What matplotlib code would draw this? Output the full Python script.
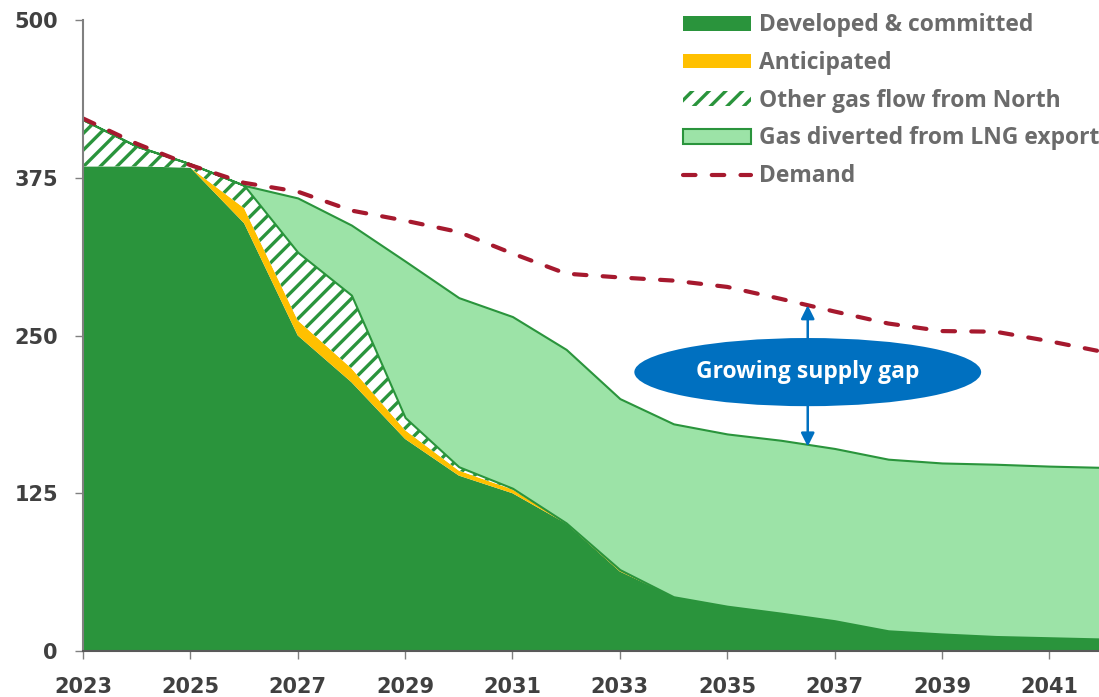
import matplotlib.pyplot as plt
import matplotlib.patches as mpatches
from matplotlib.lines import Line2D
import numpy as np

# supply / demand outlook (PJ)
years = list(range(2023, 2043))
developed = [384, 384, 383, 339, 250, 213, 168, 139, 125, 101, 63, 43, 35.5, 30, 24, 16, 13.5, 11.5, 10.5, 9.5]
anticipated = [0, 0, 0, 12, 12, 11, 7, 4, 3, 0.5, 1.5, 0, 0, 0, 0, 0, 0, 0, 0, 0]
north_flow = [37, 16, 3, 18, 54, 58, 10, 3, 1, 0, 0, 0, 0, 0, 0, 0, 0, 0, 0, 0]
lng_diverted = [0, 0, 0, 0, 43, 55.5, 124, 134, 136, 137.5, 135.5, 137, 136.5, 137, 136.5, 136, 135.5, 136.5, 136, 136]
demand = [422, 402, 385, 371, 364, 349, 341, 332, 315, 299, 296, 293.5, 288.5, 279, 269, 259.5, 253.5, 253, 245.5, 237]

labels = ['Developed & committed', 'Anticipated', 'Other gas flow from North',
          'Gas diverted from LNG export', 'Demand']
dark_green = '#2A943C'
light_green = '#9CE3A7'
orange = '#FFC000'
red = '#A6192E'
blue = '#0070C0'

plt.rcParams['hatch.linewidth'] = 2.4

fig = plt.figure(figsize=(10.99, 6.97), dpi=100)
ax = fig.add_axes([83 / 1099, 1 - 651 / 697, 1020 / 1099, 631 / 697])

x = np.array(years)
b1 = np.array(developed)
b2 = b1 + np.array(anticipated)
b3 = b2 + np.array(north_flow)
b4 = b3 + np.array(lng_diverted)

ax.fill_between(x, 0, b1, facecolor=dark_green, linewidth=0, zorder=2)
ax.fill_between(x, b1, b2, facecolor=orange, linewidth=0, zorder=2)
ax.fill_between(x, b2, b3, facecolor='white', edgecolor=dark_green, hatch='//', linewidth=0, zorder=2)
ax.fill_between(x, b3, b4, facecolor=light_green, edgecolor=dark_green, linewidth=1.5, zorder=2)
ax.plot(x, demand, color=red, lw=3, dashes=(3.0, 3.9), dash_capstyle='round', zorder=4)

# supply gap annotation
gx = 2036.5
ax.annotate('', xy=(gx, 274), xytext=(gx, 162),
            arrowprops=dict(arrowstyle='<|-|>', color=blue, lw=1.8, mutation_scale=20,
                            shrinkA=0, shrinkB=0), zorder=5)
ax.add_patch(mpatches.Ellipse((gx, 221), 6.46, 54, facecolor=blue, edgecolor='none', zorder=6))
ax.text(gx, 221, 'Growing supply gap', color='white', fontsize=16.5, fontweight='bold',
        family='Open Sans', ha='center', va='center', zorder=7)

ax.set_xlim(2023, 2042)
ax.set_ylim(0, 500)
ax.set_xticks(range(2023, 2042, 2))
ax.set_yticks([0, 125, 250, 375, 500])
for s in ['top', 'right']:
    ax.spines[s].set_visible(False)
ax.spines['left'].set_color('#808080')
ax.spines['left'].set_linewidth(1.5)
ax.spines['bottom'].set_color('#595959')
ax.spines['bottom'].set_linewidth(1.5)
ax.spines['left'].set_zorder(8)
ax.spines['bottom'].set_zorder(8)
ax.tick_params(axis='both', length=6, width=1, color='#808080', labelcolor='#404040')
ax.tick_params(axis='x', pad=13)
ax.tick_params(axis='y', pad=12)
for lab in ax.get_xticklabels() + ax.get_yticklabels():
    lab.set_family(['Liberation Sans Narrow', 'DejaVu Sans'])
    lab.set_fontweight('bold')
    lab.set_fontsize(15)

handles = [mpatches.Patch(facecolor=dark_green, edgecolor='none'),
           mpatches.Patch(facecolor=orange, edgecolor='none'),
           mpatches.Patch(facecolor='white', edgecolor=dark_green, hatch='//', linewidth=0),
           mpatches.Patch(facecolor=light_green, edgecolor=dark_green, linewidth=1.5),
           Line2D([], [], color=red, lw=3, dashes=(3.0, 3.9), dash_capstyle='round')]
leg = fig.legend(handles, labels, loc='upper right', bbox_to_anchor=(1.0, 0.981),
                 frameon=False, prop={'family': 'Open Sans', 'weight': 'bold', 'size': 16.5},
                 handlelength=2.97, handleheight=0.61, handletextpad=0.35,
                 labelspacing=0.60, borderpad=0, borderaxespad=0)
for t in leg.get_texts():
    t.set_color('#6B6B6B')

plt.savefig('out.png', dpi=100)
